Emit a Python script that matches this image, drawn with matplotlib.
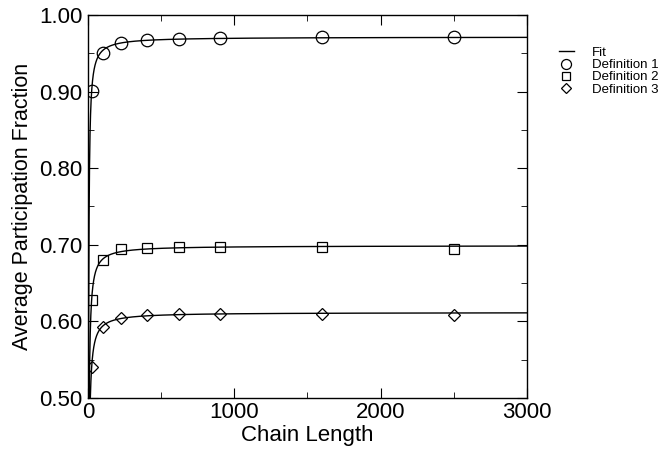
"""Average participation fraction vs chain length."""

import numpy as np
import matplotlib
matplotlib.use("Agg")
import matplotlib.pyplot as plt
from matplotlib.ticker import MultipleLocator

plt.rcParams["font.family"] = ["Liberation Sans", "DejaVu Sans"]

chain_length = [25, 100, 225, 400, 625, 900, 1600, 2500]
def1 = [0.901, 0.950, 0.964, 0.967, 0.969, 0.970, 0.971, 0.971]
def2 = [0.628, 0.680, 0.694, 0.696, 0.697, 0.697, 0.697, 0.695]
def3 = [0.540, 0.593, 0.605, 0.608, 0.610, 0.610, 0.610, 0.609]

SERIES = [
    ("Definition 1", def1, "o", 9),
    ("Definition 2", def2, "s", 7.5),
    ("Definition 3", def3, "D", 6.5),
]


def fit_curve(n, y):
    """Least-squares fit of y = a - b/N."""
    n = np.asarray(n, float)
    slope, icpt = np.polyfit(1.0 / n, np.asarray(y, float), 1)
    return lambda x: icpt + slope / x


fig = plt.figure(figsize=(6.68, 4.49), dpi=100)
ax = fig.add_axes([0.1317, 0.1136, 0.6572, 0.853])

n_fine = np.linspace(1, 3000, 6000)
for i, (label, vals, marker, ms) in enumerate(SERIES):
    f = fit_curve(chain_length, vals)
    ax.plot(n_fine, f(n_fine), color="black", lw=1.0,
            label="Fit" if i == 0 else None, zorder=2)

for label, vals, marker, ms in SERIES:
    ax.plot(chain_length, vals, ls="none", marker=marker, ms=ms,
            mfc="none", mec="black", mew=0.9, label=label, zorder=3)

ax.set_xlim(0, 3000)
ax.set_ylim(0.5, 1.0)
ax.xaxis.set_major_locator(MultipleLocator(1000))
ax.xaxis.set_minor_locator(MultipleLocator(500))
ax.yaxis.set_major_locator(MultipleLocator(0.1))
ax.yaxis.set_minor_locator(MultipleLocator(0.05))
ax.yaxis.set_major_formatter(plt.FormatStrFormatter("%.2f"))
ax.tick_params(which="both", direction="in", top=True, right=True,
               labelsize=16)
ax.tick_params(axis="y", pad=4)
ax.tick_params(axis="x", pad=3)
ax.tick_params(which="major", length=7)
ax.tick_params(which="minor", length=4)
ax.set_xlabel("Chain Length", fontsize=16, labelpad=1)
ax.set_ylabel("Average Participation Fraction", fontsize=15.5, labelpad=4)
for sp in ax.spines.values():
    sp.set_linewidth(1.0)

ax.legend(loc="upper left", bbox_to_anchor=(1.073, 0.917), frameon=False,
          fontsize=9.5, handlelength=1.1, handletextpad=1.4,
          labelspacing=0.0, borderaxespad=0, borderpad=0,
          markerscale=0.8)

fig.savefig("out.png", dpi=100)
